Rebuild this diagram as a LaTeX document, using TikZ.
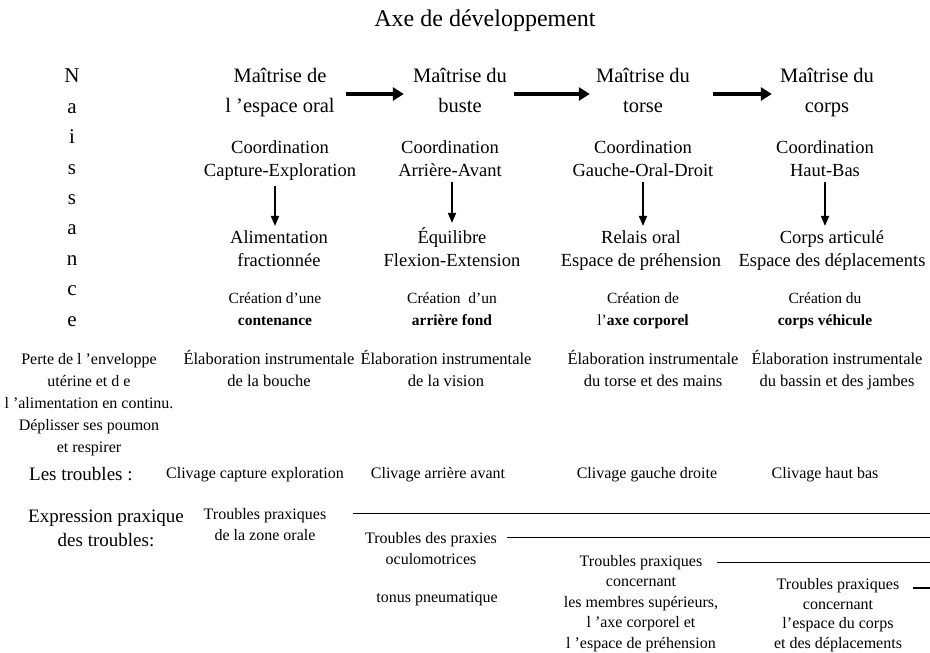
\documentclass[tikz,border=0pt]{standalone}
\usepackage{fontspec}
\setmainfont{Liberation Serif}
\usetikzlibrary{arrows.meta, positioning}

\begin{document}
\begin{tikzpicture}[x=1pt, y=-1pt,
    txt/.style={align=center, inner sep=1pt, anchor=base},
    headtxt/.style={txt, font=\fontsize{20.5}{30}\selectfont},
    coordtxt/.style={txt, font=\fontsize{18.5}{23}\selectfont},
    creatxt/.style={txt, font=\fontsize{15.5}{22}\selectfont},
    elabtxt/.style={txt, font=\fontsize{16.5}{22}\selectfont},
    troubtxt/.style={txt, font=\fontsize{16}{21}\selectfont},
    sidetxt/.style={txt, font=\fontsize{19}{24}\selectfont},
    bigarrow/.style={-{Triangle[length=11pt,width=13pt]}, line width=3.5pt},
    downarrow/.style={-{Triangle[length=10pt,width=8pt]}, line width=1.6pt},
    rule/.style={line width=0.8pt}]
    \useasboundingbox (0,0) rectangle (930,653);

    % Title
    \node[txt, font=\fontsize{24}{28}\selectfont] (title) at (485,26) {Axe de développement};

    % Vertical word on the left (base = last line)
    \node[txt, font=\fontsize{21}{30.4}\selectfont] (naiss) at (72,326) {N\\a\\i\\s\\s\\a\\n\\c\\e};

    % Stages of mastery
    \node[headtxt] (h1) at (280,112) {Maîtrise de\\l ’espace oral};
    \node[headtxt] (h2) at (460,112) {Maîtrise du\\buste};
    \node[headtxt] (h3) at (643,112) {Maîtrise du\\torse};
    \node[headtxt] (h4) at (827,112) {Maîtrise du\\corps};

    \draw[bigarrow, shorten <=10pt, shorten >=8pt] (h1.east |- 0,94) -- (h2.west |- 0,94);
    \draw[bigarrow, shorten <=6pt, shorten >=5pt] (h2.east |- 0,94) -- (h3.west |- 0,94);
    \draw[bigarrow, shorten <=22pt, shorten >=7pt] (h3.east |- 0,94) -- (h4.west |- 0,94);

    % Coordinations
    \node[coordtxt] (c1) at (280,176) {Coordination\\Capture-Exploration};
    \node[coordtxt] (c2) at (450,176) {Coordination\\Arrière-Avant};
    \node[coordtxt] (c3) at (643,176) {Coordination\\Gauche-Oral-Droit};
    \node[coordtxt] (c4) at (825,176) {Coordination\\Haut-Bas};

    % What each coordination brings
    \node[coordtxt] (r1) at (279,266) {Alimentation\\fractionnée};
    \node[coordtxt] (r2) at (452,266) {Équilibre\\Flexion-Extension};
    \node[coordtxt] (r3) at (641,266) {Relais oral\\Espace de préhension};
    \node[coordtxt] (r4) at (832,266) {Corps articulé\\Espace des déplacements};

    \draw[downarrow, shorten <=5pt, shorten >=3pt] (c1.south -| 275,0) -- (r1.north -| 275,0);
    \draw[downarrow, shorten <=5pt, shorten >=3pt] (c2.south -| 452,0) -- (r2.north -| 452,0);
    \draw[downarrow, shorten <=5pt, shorten >=3pt] (c3.south) -- (c3.south |- r3.north);
    \draw[downarrow, shorten <=5pt, shorten >=3pt] (c4.south) -- (c4.south |- r4.north);

    % Creations
    \node[creatxt] (k1) at (275,325) {Création d’une\\\textbf{contenance}};
    \node[creatxt] (k2) at (452,325) {Création~ d’un\\\textbf{arrière fond}};
    \node[creatxt] (k3) at (643,325) {Création de\\l’\textbf{axe corporel}};
    \node[creatxt] (k4) at (825,325) {Création du\\\textbf{corps véhicule}};

    % Instrumental elaboration
    \node[elabtxt, font=\fontsize{16}{22}\selectfont] (birth) at (89,452) {Perte de l ’enveloppe\\utérine et d e\\l ’alimentation en continu.\\Déplisser ses poumon\\et respirer};
    \node[elabtxt] (e1) at (269,386) {Élaboration instrumentale\\de la bouche};
    \node[elabtxt] (e2) at (446,386) {Élaboration instrumentale\\de la vision};
    \node[elabtxt] (e3) at (653,386) {Élaboration instrumentale\\du torse et des mains};
    \node[elabtxt] (e4) at (837,386) {Élaboration instrumentale\\du bassin et des jambes};

    % Disorders
    \node[sidetxt, anchor=base west] (lt) at (28,480) {Les troubles :};
    \node[troubtxt] (v1) at (255,478) {Clivage capture exploration};
    \node[troubtxt] (v2) at (438,478) {Clivage arrière avant};
    \node[troubtxt] (v3) at (647,478) {Clivage gauche droite};
    \node[troubtxt] (v4) at (825,478) {Clivage haut bas};

    \node[sidetxt] (ep) at (106,546) {Expression praxique\\des troubles:};
    \node[troubtxt] (t1) at (265,540) {Troubles praxiques\\de la zone orale};
    \node[troubtxt] (t2) at (431,564) {Troubles des praxies\\oculomotrices};
    \node[troubtxt] (tonus) at (437,602) {tonus pneumatique};
    \node[troubtxt, font=\fontsize{16}{20.5}\selectfont] (t3) at (641,648) {Troubles praxiques\\concernant\\les membres supérieurs,\\l ’axe corporel et\\l ’espace de préhension};
    \node[troubtxt, font=\fontsize{16}{19.5}\selectfont] (t4) at (838,648) {Troubles praxiques\\concernant\\l’espace du corps\\et des déplacements};

    % Lines running to the right edge
    \coordinate (s1) at (353,513); \coordinate (f1) at (930,513);
    \coordinate (s2) at (507,537); \coordinate (f2) at (930,537);
    \coordinate (s3) at (717,562); \coordinate (f3) at (930,562);
    \coordinate (s4) at (913,588); \coordinate (f4) at (930,588);
    \draw[rule] (s1) -- (f1);
    \draw[rule] (s2) -- (f2);
    \draw[rule] (s3) -- (f3);
    \draw[rule, line width=1.5pt] (s4) -- (f4);
\end{tikzpicture}
\end{document}
